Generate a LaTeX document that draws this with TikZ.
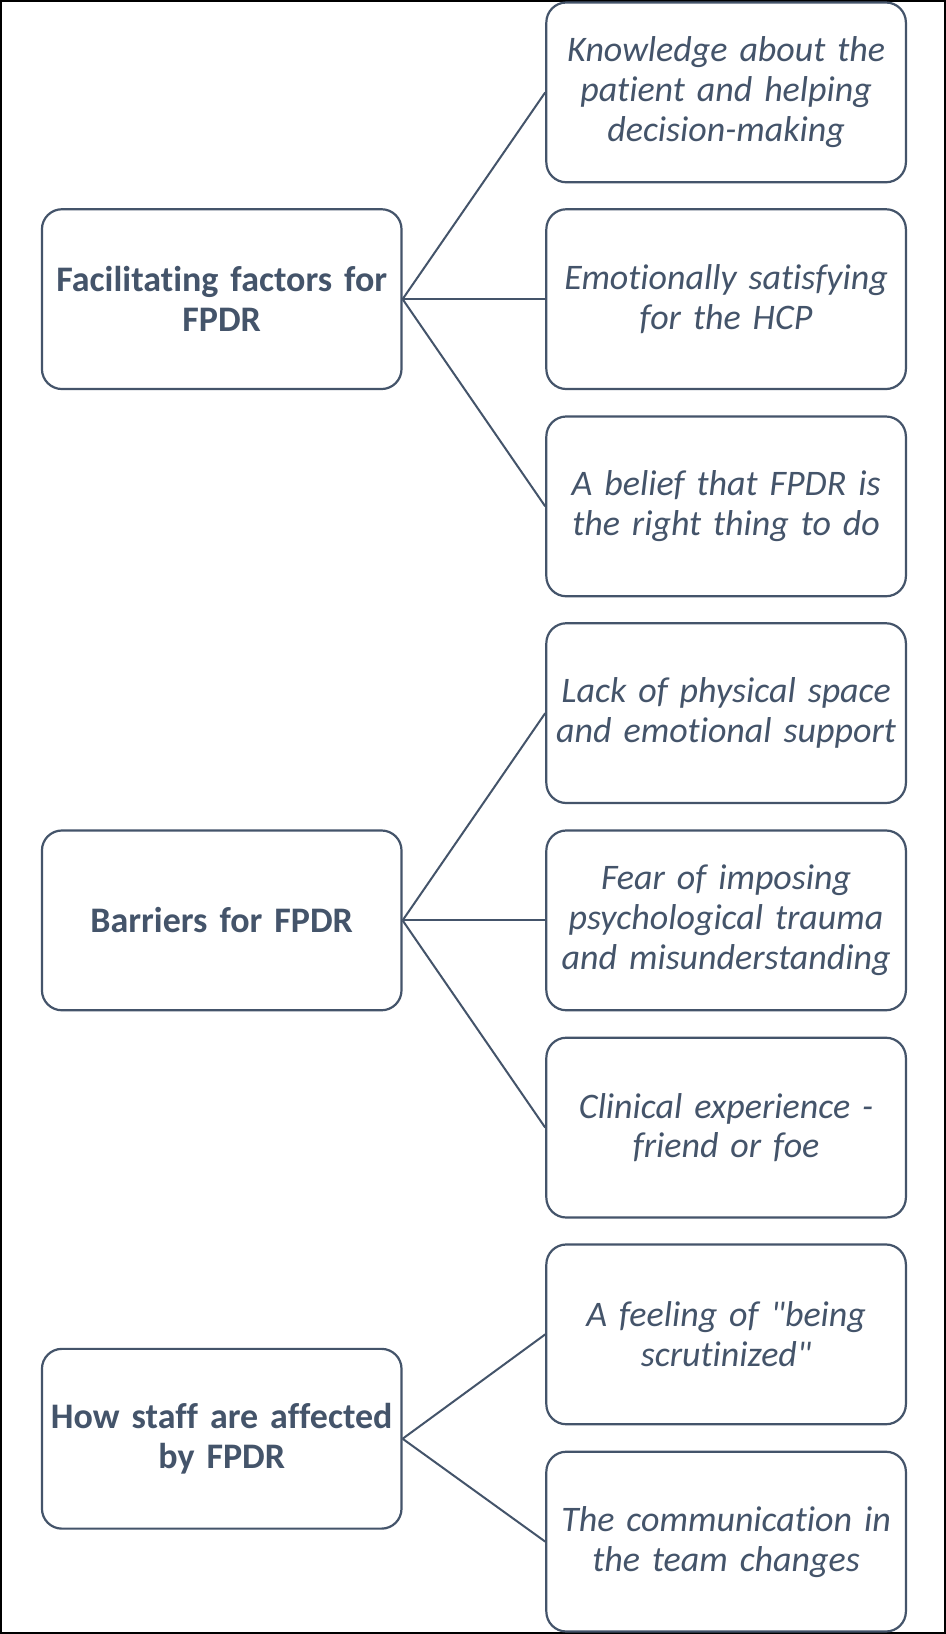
\documentclass[tikz,border=0pt]{standalone}
\usepackage{fontspec}
\setmainfont{Carlito}
\newfontfamily\calfont{Carlito}[Ligatures=NoCommon]
\definecolor{slate}{HTML}{44546A}
\begin{document}
\begin{tikzpicture}[x=1pt,y=-1pt,
  box/.style={draw=slate,line width=2.2pt,rounded corners=20pt,minimum width=360pt,minimum height=180pt,text width=356pt,align=center,text=slate,inner sep=0pt,anchor=center},
  mainbox/.style={box,font=\calfont\fontsize{36}{40}\selectfont\bfseries},
  subbox/.style={box,font=\calfont\fontsize{36}{40}\selectfont\itshape},
  link/.style={draw=slate,line width=2pt}]
\draw[black,line width=2pt,fill=white] (0,0) rectangle (945,1634);
\useasboundingbox (0,0) rectangle (945,1634);
\node[mainbox] (L1) at (221,298.5) {Facilitating factors for\\FPDR};
\node[mainbox] (L2) at (221,920.5) {Barriers for FPDR};
\node[mainbox] (L3) at (221,1439.5) {How staff are affected\\by FPDR};
\node[subbox] (R1) at (726,91.5) {Knowledge about the\\patient and helping\\decision-making};
\node[subbox] (R2) at (726,298.5) {Emotionally satisfying\\for the HCP};
\node[subbox] (R3) at (726,506) {A belief that FPDR is\\the right thing to do};
\node[subbox] (R4) at (726,713) {Lack of physical space\\and emotional support};
\node[subbox] (R5) at (726,920.5) {Fear of imposing\\psychological trauma\\and misunderstanding};
\node[subbox] (R6) at (726,1128) {Clinical experience -\\friend or foe};
\node[subbox] (R7) at (726,1335) {A feeling of "being\\scrutinized"};
\node[subbox] (R8) at (726,1542.5) {The communication in\\the team changes};
\draw[link] (L1.east) -- (R1.west);
\draw[link] (L1.east) -- (R2.west);
\draw[link] (L1.east) -- (R3.west);
\draw[link] (L2.east) -- (R4.west);
\draw[link] (L2.east) -- (R5.west);
\draw[link] (L2.east) -- (R6.west);
\draw[link] (L3.east) -- (R7.west);
\draw[link] (L3.east) -- (R8.west);
\end{tikzpicture}
\end{document}
